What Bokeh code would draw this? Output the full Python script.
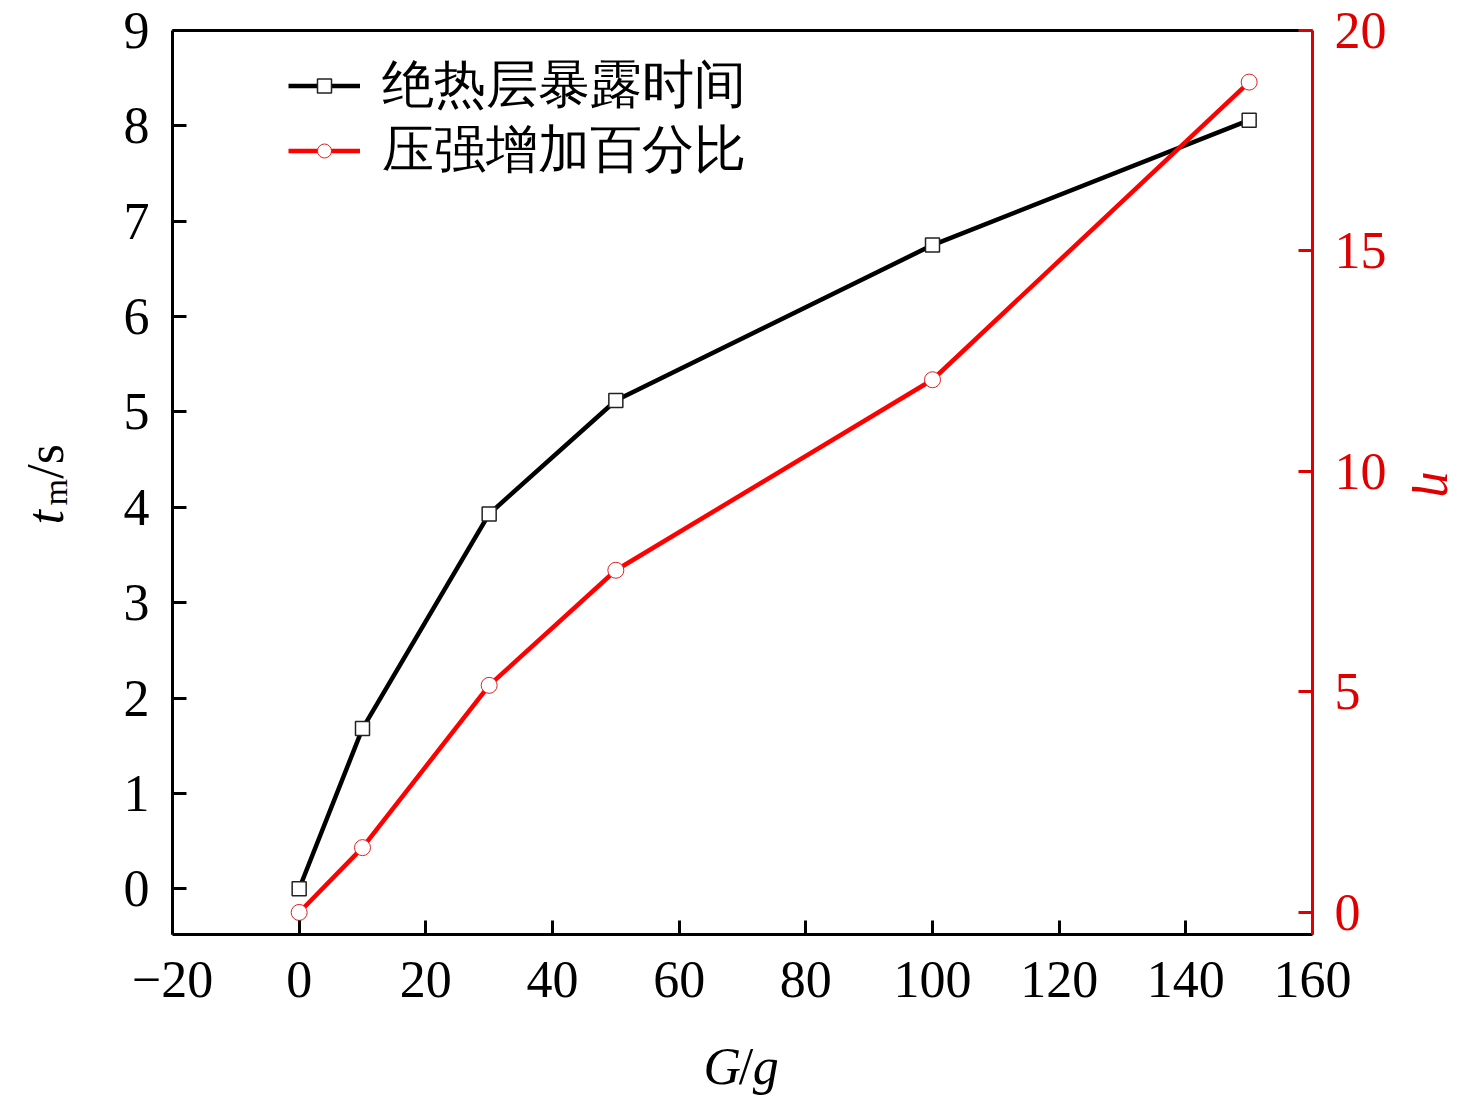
import math
from bokeh.plotting import figure
from bokeh.models import Range1d, LinearAxis, FixedTicker, Legend, LegendItem, Label
from bokeh.embed import file_html
from bokeh.resources import INLINE

# ---- data ----
G = [0, 10, 30, 50, 100, 150]
t_m = [0.0, 1.68, 3.93, 5.12, 6.75, 8.06]
eta = [0.0, 1.47, 5.15, 7.76, 12.08, 18.83]
x_ticks = [-20, 0, 20, 40, 60, 80, 100, 120, 140, 160]
y_ticks = [0, 1, 2, 3, 4, 5, 6, 7, 8, 9]
eta_ticks = [0, 5, 10, 15, 20]
legend_labels = ["绝热层暴露时间", "压强增加百分比"]

# axis extents (data units) of the boxed plotting area
X0, X1 = -20, 160
Y0, Y1 = -0.48, 9
E0, E1 = -0.5, 20

SERIF = "Liberation Serif"
RED = "#ff0000"
AXRED = "#e00000"
FS = "52px"

# canvas and the boxed area inside it (pixels)
W, H = 1476, 1098
BL, BR, BT, BB = 172, 1312, 30, 934

def outer(a0, a1, p0, p1, total, flip=False):
    # extend a range so that [a0, a1] sits at pixels [p0, p1] of the canvas
    k = (a1 - a0) / (p1 - p0)
    if flip:
        return a0 - (total - p1) * k, a1 + p0 * k
    return a0 - p0 * k, a1 + (total - p1) * k

xr = outer(X0, X1, BL, BR, W)
yr = outer(Y0, Y1, BT, BB, H, flip=True)
er = outer(E0, E1, BT, BB, H, flip=True)

p = figure(width=W, height=H, output_backend="svg", toolbar_location=None,
           x_range=Range1d(*xr), y_range=Range1d(*yr),
           x_axis_type=None, y_axis_type=None, min_border=0,
           outline_line_color=None)
p.xgrid.visible = False
p.ygrid.visible = False
p.background_fill_color = "white"
p.border_fill_color = "white"
p.extra_y_ranges = {"eta": Range1d(*er)}

def style_axis(ax, color):
    ax.axis_line_color = color
    ax.axis_line_width = 3
    ax.major_tick_line_color = color
    ax.major_tick_line_width = 3
    ax.major_tick_in = 14
    ax.major_tick_out = 0
    ax.minor_tick_line_color = None
    ax.major_label_text_font = SERIF
    ax.major_label_text_font_size = FS
    ax.major_label_text_color = color

xa = LinearAxis(ticker=FixedTicker(ticks=x_ticks), fixed_location=Y0, bounds=(X0, X1))
xa.major_label_overrides = {-20: "\u221220"}
style_axis(xa, "black")
xa.major_label_standoff = 27
p.add_layout(xa, "below")

ya = LinearAxis(ticker=FixedTicker(ticks=y_ticks), fixed_location=X0, bounds=(Y0, Y1))
style_axis(ya, "black")
ya.major_label_standoff = 23
p.add_layout(ya, "left")

ra = LinearAxis(y_range_name="eta", ticker=FixedTicker(ticks=eta_ticks),
                fixed_location=X1, bounds=(E0, E1))
style_axis(ra, AXRED)
ra.major_label_standoff = 22
p.add_layout(ra, "right")

ta = LinearAxis(ticker=FixedTicker(ticks=[]), fixed_location=Y1, bounds=(X0, X1))
ta.axis_line_color = "black"
ta.axis_line_width = 3
ta.major_tick_line_color = None
ta.minor_tick_line_color = None
ta.major_label_text_font_size = "0px"
p.add_layout(ta, "above")

# series
l1 = p.line(G, t_m, line_color="black", line_width=4.5)
s1 = p.scatter(G, t_m, marker="square", size=14, fill_color="white",
               line_color="#222222", line_width=1.5)
l2 = p.line(G, eta, line_color=RED, line_width=4.5, y_range_name="eta")
s2 = p.scatter(G, eta, marker="circle", size=16, fill_color="white",
               line_color="#dd2222", line_width=1, y_range_name="eta")

# one legend per entry, so each row can be placed exactly
def make_legend(label, renderers, bottom_px):
    lg = Legend(items=[LegendItem(label=label, renderers=renderers)],
                location=(288, H - bottom_px), orientation="vertical")
    lg.border_line_color = None
    lg.background_fill_alpha = 0
    lg.padding = 0
    lg.margin = 0
    lg.spacing = 0
    lg.glyph_width = 72
    lg.glyph_height = 35
    lg.label_height = 66
    lg.label_standoff = 22
    lg.label_text_font = SERIF
    lg.label_text_font_size = FS
    lg.label_text_line_height = 1.0
    lg.label_text_color = "black"
    p.add_layout(lg)

make_legend(legend_labels[0], [l1, s1], 120)
make_legend(legend_labels[1], [l2, s2], 185)

# axis titles built from styled pieces (data units)
def lab(x, y, text, size=FS, style="normal", angle=0.0, color="black",
        align="left", rng="default"):
    p.add_layout(Label(x=x, y=y, text=text, angle=angle, text_font=SERIF,
                       text_font_size=size, text_font_style=style,
                       text_color=color, text_align=align,
                       text_baseline="alphabetic", y_range_name=rng))

up = math.pi / 2
lab(-40.06, 3.82, "t", style="italic", angle=up)
lab(-38.46, 4.02, "m", size="34px", angle=up)
lab(-40.06, 4.30, "/s", angle=up)

lab(63.84, -1.86, "G", style="italic")
lab(69.4, -1.86, "/")
lab(71.6, -1.86, "g", style="italic")

lab(180.2, 4.24, "η", style="italic", angle=-up, color=AXRED, align="center")

open("out.html", "w").write(file_html(p, INLINE))
